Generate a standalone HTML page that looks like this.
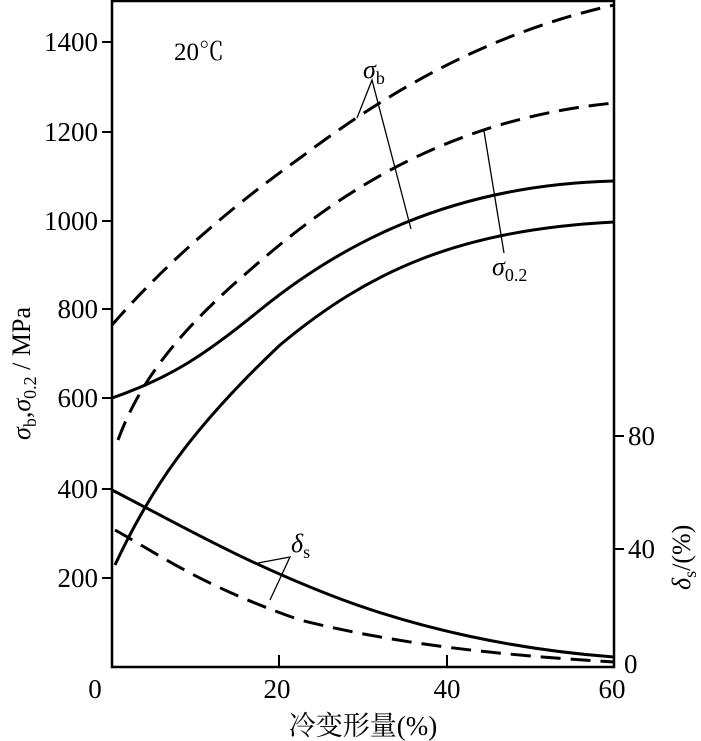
<!DOCTYPE html>
<html><head><meta charset="utf-8"><style>
html,body{margin:0;padding:0;background:#fff;}
svg{display:block;}
text{font-family:"Liberation Serif","Noto Serif CJK SC",serif;fill:#000;}
</style></head><body>
<svg width="701" height="741" viewBox="0 0 701 741" xmlns="http://www.w3.org/2000/svg">
<rect x="112" y="1" width="502" height="666" fill="none" stroke="#000" stroke-width="2.5"/>
<g stroke="#000" stroke-width="2">
<line x1="102" y1="42" x2="112" y2="42"/>
<line x1="102" y1="132" x2="112" y2="132"/>
<line x1="102" y1="221" x2="112" y2="221"/>
<line x1="102" y1="309" x2="112" y2="309"/>
<line x1="102" y1="398" x2="112" y2="398"/>
<line x1="102" y1="489" x2="112" y2="489"/>
<line x1="102" y1="578" x2="112" y2="578"/>
<line x1="279" y1="667" x2="279" y2="655"/>
<line x1="447" y1="667" x2="447" y2="655"/>
<line x1="614" y1="436" x2="624" y2="436"/>
<line x1="614" y1="549" x2="624" y2="549"/>
</g>
<g font-size="27" text-anchor="end">
<text x="98" y="51">1400</text><text x="98" y="141">1200</text><text x="98" y="230">1000</text>
<text x="98" y="318">800</text><text x="98" y="407">600</text><text x="98" y="498">400</text><text x="98" y="587">200</text>
</g>
<g font-size="27">
<text x="628" y="445">80</text><text x="628" y="558">40</text><text x="624" y="673">0</text>
</g>
<g font-size="27" text-anchor="middle">
<text x="95" y="698">0</text><text x="277" y="698">20</text><text x="447" y="698">40</text><text x="612" y="698">60</text>
<text x="363" y="735">冷变形量(%)</text>
</g>
<text x="174" y="60" font-size="25">20℃</text>
<text transform="translate(30,440) rotate(-90)" font-size="26"><tspan font-style="italic">σ</tspan><tspan font-size="18" dy="6">b</tspan><tspan dy="-6">,</tspan><tspan font-style="italic">σ</tspan><tspan font-size="18" dy="6">0.2</tspan><tspan dy="-6"> / MPa</tspan></text>
<text transform="translate(690,590) rotate(-90)" font-size="26"><tspan font-style="italic">δ</tspan><tspan font-size="18" dy="6">s</tspan><tspan dy="-6">/(%)</tspan></text>
<g fill="none" stroke="#000" stroke-width="3">
<path d="M112,325 C160,270 220,215 300,158 C380,98 480,35 614,5" stroke-dasharray="20,10"/>
<path d="M118,440 C140,380 180,330 250,270 C330,200 440,120 614,103" stroke-dasharray="20,10"/>
<path d="M112,398 C170,378 205,355 260,310 C340,245 450,185 614,181"/>
<path d="M115,565 C150,490 190,430 280,345 C370,270 460,230 614,222"/>
<path d="M112,490 C180,525 240,560 330,595 C420,630 520,650 614,657"/>
<path d="M115,530 C160,555 200,585 300,620 C400,645 500,655 614,662" stroke-dasharray="20,10"/>
</g>
<g stroke="#000" stroke-width="1.3" fill="none">
<polyline points="357,118 372,80 411,229"/>
<line x1="484" y1="131" x2="504" y2="253"/>
<polyline points="258,563 290,557 270,600"/>
</g>
<text x="363" y="78" font-size="26"><tspan font-style="italic">σ</tspan><tspan font-size="18" dy="6">b</tspan></text>
<text x="492" y="275" font-size="26"><tspan font-style="italic">σ</tspan><tspan font-size="18" dy="6">0.2</tspan></text>
<text x="291" y="552" font-size="26"><tspan font-style="italic">δ</tspan><tspan font-size="18" dy="6">s</tspan></text>
</svg>
</body></html>
